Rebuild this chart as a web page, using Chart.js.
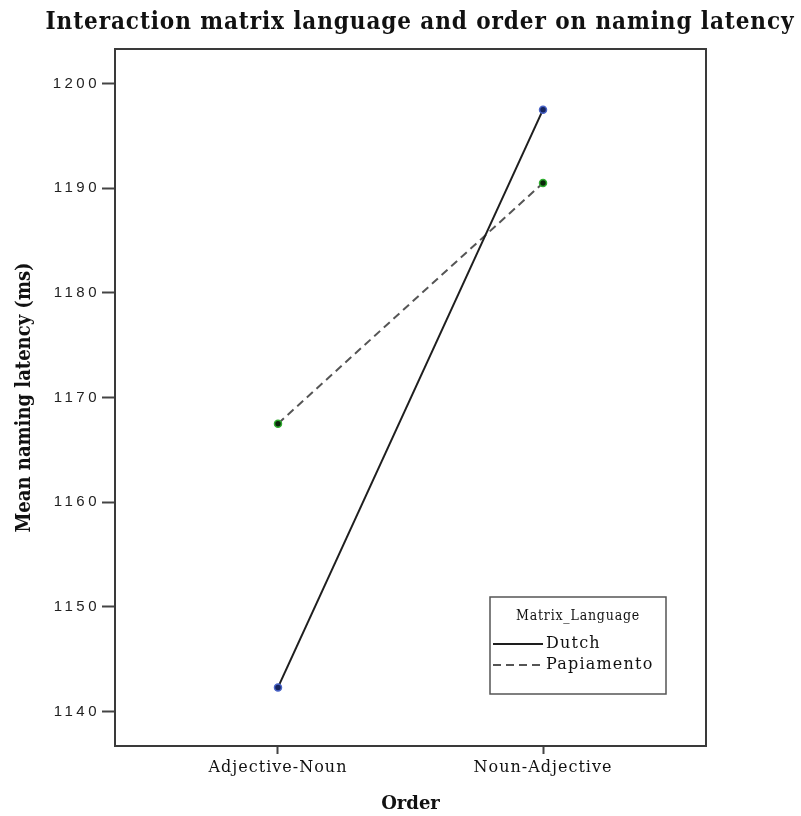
<!DOCTYPE html>
<html>
<head>
<meta charset="utf-8">
<title>Interaction matrix language and order on naming latency</title>
<script src="https://cdn.jsdelivr.net/npm/chart.js@4.4.1/dist/chart.umd.min.js"></script>
<style>
  html, body { margin: 0; padding: 0; background: #fff; }
  #wrap { width: 801px; height: 816px; }
</style>
</head>
<body>
<div id="wrap"><canvas id="chart" width="801" height="816"></canvas></div>
<script>
// data
const orders = ['Adjective-Noun', 'Noun-Adjective'];
const languages = ['Dutch', 'Papiamento'];
const dutchLatency = [1142.3, 1197.5];
const papiamentoLatency = [1167.5, 1190.5];
const yTicks = [1140, 1150, 1160, 1170, 1180, 1190, 1200];

const chartTitle = 'Interaction matrix language and order on naming latency';
const xTitle = 'Order';
const yTitle = 'Mean naming latency (ms)';
const legendTitle = 'Matrix_Language';

const SERIF = '"DejaVu Serif", serif';
const SERIF_COND = '"DejaVu Serif Condensed", "DejaVu Serif", serif';

// the source picture has wide letter spacing on its tick labels
const labelSpacing = { x: '1px', y: '3.5px' };

/**
 * line + point style for each language
 */
const getStyle = lang => {
  switch (lang) {
    case 'Dutch':
      return { line: '#1e1e1e', dash: [], point: '#15245e', halo: '#4a64c8' };
    case 'Papiamento':
      return { line: '#555555', dash: [8, 5], point: '#0b260b', halo: '#2fae2f' };
    default:
      return { line: '#000', dash: [], point: '#000', halo: '#000' };
  }
};

const series = [dutchLatency, papiamentoLatency];
const datasets = languages.map((lang, i) => {
  const s = getStyle(lang);
  return {
    label: lang,
    data: series[i].map((v, j) => ({ x: j, y: v })),
    borderColor: s.line,
    borderWidth: 2,
    borderDash: s.dash,
    pointRadius: 3.5,
    pointBorderWidth: 1.5,
    pointBackgroundColor: s.point,
    pointBorderColor: s.halo,
    tension: 0,
  };
});

const decorations = {
  id: 'decorations',
  // wrap drawLabels of each scale so its tick labels get letter spacing
  afterLayout(chart) {
    Object.keys(labelSpacing).forEach(id => {
      const scale = chart.scales[id];
      if (!scale || scale._spaced) return;
      const orig = scale.drawLabels;
      scale.drawLabels = function (area) {
        const prev = chart.ctx.letterSpacing;
        chart.ctx.letterSpacing = labelSpacing[id];
        orig.call(this, area);
        chart.ctx.letterSpacing = prev || '0px';
      };
      scale._spaced = true;
    });
  },
  beforeDraw(chart) {
    const { ctx } = chart;
    ctx.save();
    ctx.fillStyle = '#111';
    ctx.font = 'bold 24px ' + SERIF_COND;
    ctx.letterSpacing = '0.9px';
    ctx.textAlign = 'center';
    ctx.textBaseline = 'middle';
    ctx.fillText(chartTitle, 420, 23);
    ctx.letterSpacing = '0px';
    ctx.restore();
  },
  // frame round the plot area
  beforeDatasetsDraw(chart) {
    const { ctx, chartArea: a } = chart;
    ctx.save();
    ctx.strokeStyle = '#3a3a3a';
    ctx.lineWidth = 2;
    ctx.strokeRect(a.left, a.top, a.right - a.left, a.bottom - a.top);
    ctx.restore();
  },
  // legend box, bottom right inside the plot
  afterDraw(chart) {
    const { ctx, chartArea: a } = chart;
    const x0 = a.right - 216;
    const y0 = a.bottom - 149;
    const w = 176;
    const h = 97;
    ctx.save();
    ctx.strokeStyle = '#555';
    ctx.lineWidth = 1.5;
    ctx.strokeRect(x0, y0, w, h);
    ctx.fillStyle = '#111';
    ctx.textBaseline = 'middle';
    ctx.textAlign = 'center';
    ctx.font = '14px ' + SERIF_COND;
    ctx.letterSpacing = '0.8px';
    ctx.fillText(legendTitle, x0 + w / 2, y0 + 19);
    ctx.textAlign = 'left';
    ctx.font = '16px ' + SERIF;
    ctx.letterSpacing = '1.2px';
    chart.data.datasets.forEach((ds, i) => {
      const y = y0 + 47 + i * 21;
      ctx.beginPath();
      ctx.strokeStyle = ds.borderColor;
      ctx.lineWidth = 2;
      ctx.setLineDash(ds.borderDash);
      ctx.moveTo(x0 + 3, y);
      ctx.lineTo(x0 + 53, y);
      ctx.stroke();
      ctx.setLineDash([]);
      ctx.fillText(ds.label, x0 + 56, y);
    });
    ctx.letterSpacing = '0px';
    ctx.restore();
  },
};

new Chart(document.getElementById('chart'), {
  type: 'line',
  data: { datasets },
  options: {
    responsive: false,
    animation: false,
    devicePixelRatio: 1,
    layout: { padding: { top: 49, right: 95, left: 0, bottom: 0 } },
    plugins: {
      legend: { display: false },
      title: { display: false },
      tooltip: { enabled: false },
    },
    scales: {
      x: {
        type: 'linear',
        min: -0.615,
        max: 1.615,
        afterBuildTicks: scale => {
          scale.ticks = orders.map((_, i) => ({ value: i }));
        },
        afterFit: scale => {
          scale.height = 70;
        },
        ticks: {
          callback: v => orders[v],
          color: '#111',
          font: { family: SERIF, size: 16 },
          padding: 4,
          maxRotation: 0,
        },
        grid: {
          drawOnChartArea: false,
          drawTicks: true,
          tickLength: 8,
          tickWidth: 2,
          tickColor: '#444',
        },
        border: { display: true, color: '#3a3a3a', width: 2 },
        title: {
          display: true,
          text: xTitle,
          color: '#111',
          font: { family: SERIF, size: 18, weight: 'bold' },
          padding: { bottom: 1 },
        },
      },
      y: {
        min: 1136.7,
        max: 1203.3,
        afterBuildTicks: scale => {
          scale.ticks = yTicks.map(v => ({ value: v }));
        },
        afterFit: scale => {
          scale.width = 115;
        },
        ticks: {
          callback: v => String(v),
          color: '#222',
          font: { family: '"Liberation Sans", Arial, sans-serif', size: 15 },
          padding: 2,
        },
        grid: {
          drawOnChartArea: false,
          drawTicks: true,
          tickLength: 13,
          tickWidth: 2,
          tickColor: '#444',
        },
        border: { display: true, color: '#3a3a3a', width: 2 },
        title: {
          display: true,
          text: yTitle,
          color: '#111',
          font: { family: SERIF_COND, size: 20, weight: 'bold' },
          padding: { top: 13 },
        },
      },
    },
  },
  plugins: [decorations],
});
</script>
</body>
</html>
